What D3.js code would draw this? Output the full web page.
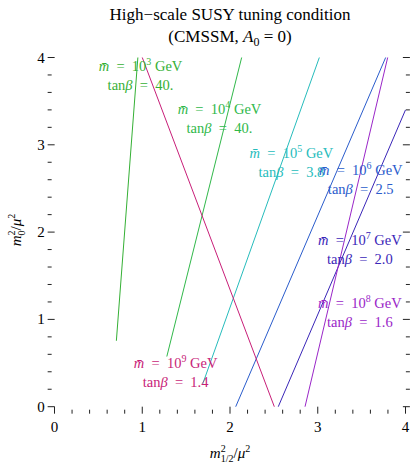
<!DOCTYPE html>
<html>
<head>
<meta charset="utf-8">
<script src="https://cdn.jsdelivr.net/npm/d3@7"></script>
<style>
  body { margin: 0; background: #fff; }
  text { font-family: "Liberation Serif", "DejaVu Serif", serif; }
</style>
</head>
<body>
<script>
// curves m0^2/mu^2 vs m1/2^2/mu^2, one straight segment per scale
var scales = ["3", "4", "5", "6", "7", "8", "9"];
var tanBeta = ["40.", "40.", "3.8", "2.5", "2.0", "1.6", "1.4"];
var xStart = [0.705, 1.28, 1.685, 2.065, 2.55, 2.855, 1.0];
var yStart = [0.755, 0.575, 0.25, 0.0, 0.0, 0.0, 4.0];
var xEnd = [0.95, 2.133, 3.018, 3.774, 4.0, 3.797, 2.505];
var yEnd = [4.0, 4.0, 4.0, 4.0, 3.40, 4.0, 0.0];
var colors = ["#35b035", "#30b84a", "#26bcbc", "#2a5ccc", "#3a26b8", "#9a26c8", "#c81e78"];
// label anchor (centre x, first baseline) in data units
var labelX = [0.98, 1.88, 2.7, 3.49, 3.48, 3.48, 1.38];
var labelY = [3.84, 3.35, 2.85, 2.65, 1.85, 1.13, 0.44];

var xTicks = [0, 1, 2, 3, 4];
var yTicks = [0, 1, 2, 3, 4];
var xDomain = [-0.078, 4.05], yDomain = [-0.08, 4.09];

var width = 411, height = 465;

var svg = d3.select("body").append("svg")
    .attr("width", width)
    .attr("height", height);

var x = d3.scaleLinear().domain([0, 4]).range([54.5, 405.5]);
var y = d3.scaleLinear().domain([0, 4]).range([406.7, 57.5]);

var left = x(xDomain[0]), right = x(xDomain[1]),
    top = y(yDomain[1]), bottom = y(yDomain[0]);

// frame
svg.append("rect")
    .attr("x", left).attr("y", top)
    .attr("width", right - left).attr("height", bottom - top)
    .attr("fill", "none").attr("stroke", "#222").attr("stroke-width", 1);

var minorX = d3.range(0, 4.01, 0.2), minorY = d3.range(0, 4.01, 0.2);
function isMajor(v) { return Math.abs(v - Math.round(v)) < 1e-6; }

var ticks = svg.append("g").attr("stroke", "#222").attr("stroke-width", 1);
minorX.forEach(function (v) {
    var len = isMajor(v) ? 7 : 4;
    ticks.append("line").attr("x1", x(v)).attr("x2", x(v)).attr("y1", bottom).attr("y2", bottom - len);
    ticks.append("line").attr("x1", x(v)).attr("x2", x(v)).attr("y1", top).attr("y2", top + len);
});
minorY.forEach(function (v) {
    var len = isMajor(v) ? 7 : 4;
    ticks.append("line").attr("y1", y(v)).attr("y2", y(v)).attr("x1", left).attr("x2", left + len);
    ticks.append("line").attr("y1", y(v)).attr("y2", y(v)).attr("x1", right).attr("x2", right - len);
});

svg.append("g").selectAll("text").data(xTicks).enter().append("text")
    .attr("x", function (d) { return x(d); })
    .attr("y", bottom + 18)
    .attr("text-anchor", "middle")
    .attr("font-size", 15)
    .text(function (d) { return d; });

svg.append("g").selectAll("text").data(yTicks).enter().append("text")
    .attr("x", left - 3)
    .attr("y", function (d) { return y(d) + 5; })
    .attr("text-anchor", "end")
    .attr("font-size", 15)
    .text(function (d) { return d; });

// curves
var plot = svg.append("g");
scales.forEach(function (s, i) {
    plot.append("line")
        .attr("x1", x(xStart[i])).attr("y1", y(yStart[i]))
        .attr("x2", x(xEnd[i])).attr("y2", y(yEnd[i]))
        .attr("stroke", colors[i]).attr("stroke-width", 1);
});

// labels
scales.forEach(function (s, i) {
    var g = svg.append("g").attr("fill", colors[i]).attr("font-size", 14.5);
    var t1 = g.append("text")
        .attr("x", x(labelX[i])).attr("y", y(labelY[i]))
        .attr("text-anchor", "middle")
        .style("white-space", "pre");
    t1.append("tspan").attr("font-style", "italic").text("m\u0304");
    t1.append("tspan").text("  =  10");
    t1.append("tspan").attr("font-size", 10).attr("dy", -6).text(s);
    t1.append("tspan").attr("dy", 6).text(" GeV");

    var t2 = g.append("text")
        .attr("x", x(labelX[i])).attr("y", y(labelY[i]) + 19)
        .attr("text-anchor", "middle")
        .style("white-space", "pre");
    t2.append("tspan").text("tan");
    t2.append("tspan").attr("font-style", "italic").text("\u03b2");
    t2.append("tspan").text("  =  " + tanBeta[i]);
});

// title
svg.append("text")
    .attr("x", 230).attr("y", 20)
    .attr("text-anchor", "middle").attr("font-size", 17)
    .text("High\u2212scale SUSY tuning condition");
var t = svg.append("text")
    .attr("x", 230).attr("y", 42)
    .attr("text-anchor", "middle").attr("font-size", 17);
t.append("tspan").text("(CMSSM, ");
t.append("tspan").attr("font-style", "italic").text("A");
t.append("tspan").attr("font-size", 12).attr("dy", 4).text("0");
t.append("tspan").attr("dy", -4).text(" = 0)");

// axis titles
var xl = svg.append("text")
    .attr("x", 230).attr("y", 458)
    .attr("text-anchor", "middle").attr("font-size", 15);
xl.append("tspan").attr("font-style", "italic").text("m");
xl.append("tspan").attr("font-size", 10).attr("dy", -6).text("2");
xl.append("tspan").attr("font-size", 10).attr("dx", -5).attr("dy", 10).text("1/2");
xl.append("tspan").attr("dy", -4).text("/");
xl.append("tspan").attr("font-style", "italic").text("\u03bc");
xl.append("tspan").attr("font-size", 10).attr("dy", -6).text("2");

var yl = svg.append("text")
    .attr("transform", "translate(21,230) rotate(-90)")
    .attr("text-anchor", "middle").attr("font-size", 15);
yl.append("tspan").attr("font-style", "italic").text("m");
yl.append("tspan").attr("font-size", 10).attr("dy", -6).text("2");
yl.append("tspan").attr("font-size", 10).attr("dx", -5).attr("dy", 10).text("0");
yl.append("tspan").attr("dy", -4).text("/");
yl.append("tspan").attr("font-style", "italic").text("\u03bc");
yl.append("tspan").attr("font-size", 10).attr("dy", -6).text("2");
</script>
</body>
</html>
